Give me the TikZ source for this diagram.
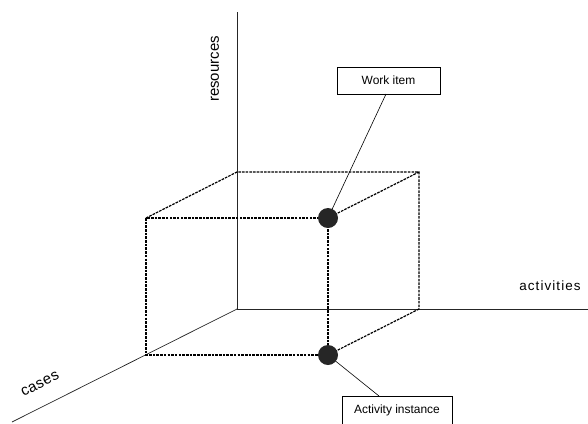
\documentclass[tikz,border=0pt]{standalone}
\usepackage{fontspec}
\setmainfont{Liberation Sans}
\newfontfamily\spaced[LetterSpace=8]{Liberation Sans}
\newfontfamily\slightspaced[LetterSpace=3]{Liberation Sans}
\usetikzlibrary{backgrounds}
\begin{document}
\begin{tikzpicture}[x=1bp,y=-1bp,
  axis/.style={line width=0.7pt,draw=black!85},
  edge/.style={line width=1.2pt,draw=black,dash pattern=on 2.6pt off 1.1pt},
  dot/.style={circle,fill=black!85,minimum size=20bp,inner sep=0pt},
  labelbox/.style={draw,line width=0.7pt,inner sep=0pt,font=\fontsize{12}{14}\selectfont},
  lead/.style={line width=0.6pt},
  axislabel/.style={font=\fontsize{13.5}{15}\selectfont,inner sep=0pt}]
\useasboundingbox (0,0) rectangle (588,423);
% coordinates
\coordinate (O) at (237,309);
\coordinate (R) at (237,12);
\coordinate (A) at (588,309);
\coordinate (C) at (12,422);
\coordinate (BTL) at (237,172);
\coordinate (BTR) at (419,172);
\coordinate (BBR) at (419,309);
\coordinate (FTL) at (146,218);
\coordinate (FBL) at (146,355);
% dots
\node[dot] (wi) at (328,218) {};
\node[dot] (ai) at (328,355) {};
% boxes
\node[labelbox,minimum width=103bp,minimum height=27bp] (wbox) at (388.5,80.5) {Work item};
\node[labelbox,minimum width=110bp,minimum height=28bp,anchor=north] (abox) at (397,396) {Activity instance};
\coordinate (wl) at (386,94);
\coordinate (al) at (379,396);
\begin{scope}[on background layer]
% axes
\draw[axis] (O) -- (R);
\draw[axis] (O) -- (A);
\draw[axis] (O) -- (C);
% dashed cube edges
\draw[edge] (FTL) -- (BTL) -- (BTR) -- (BBR);
\draw[edge] (BTR) -- (wi.center);
\draw[edge] (BBR) -- (ai.center);
\draw[edge] (FTL) -- (FBL) -- (ai.center) -- (wi.center) -- (FTL);
% leads
\draw[lead] (wl) -- (wi.center);
\draw[lead] (al) -- (ai.center);
\end{scope}
% axis labels
\node[axislabel,font=\fontsize{15}{17}\selectfont,rotate=90] (res) at (215,69) {resources};
\node[axislabel] (act) at (550,286) {\spaced activities};
\node[axislabel,font=\fontsize{15}{17}\selectfont,rotate=26.6] (cas) at (40,384) {\slightspaced cases};
\end{tikzpicture}
\end{document}
